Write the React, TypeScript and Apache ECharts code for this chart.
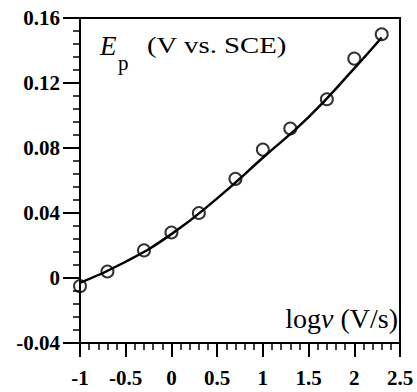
import React, { useEffect, useRef } from "react";
import * as echarts from "echarts";

const measuredX = [-1, -0.7, -0.3, 0, 0.3, 0.7, 1, 1.3, 1.7, 2, 2.3];
const measuredY = [-0.005, 0.004, 0.017, 0.028, 0.04, 0.061, 0.079, 0.092, 0.11, 0.135, 0.15];
const fitX = [-1, -0.5, 0, 0.5, 1, 1.5, 2, 2.3];
const fitY = [-0.003, 0.01, 0.027, 0.049, 0.074, 0.099, 0.129, 0.148];

const SERIF = '"Liberation Serif", "Times New Roman", serif';

export default function App() {
  const ref = useRef<HTMLDivElement>(null);
  useEffect(() => {
    if (!ref.current) return;
    const chart = echarts.init(ref.current, undefined, { renderer: "svg" });
    chart.setOption({
      animation: false,
      backgroundColor: "#fff",
      grid: {
        left: 80,
        right: 17,
        top: 18,
        bottom: 49,
        show: true,
        borderColor: "#000",
        borderWidth: 2,
        backgroundColor: "transparent",
      },
      xAxis: {
        type: "value",
        min: -1,
        max: 2.5,
        interval: 0.5,
        axisLine: { show: true, onZero: false, lineStyle: { color: "#000", width: 2 } },
        axisTick: { show: true, inside: false, length: 14, lineStyle: { color: "#000", width: 2 } },
        minorTick: { show: true, splitNumber: 5, length: 7, lineStyle: { color: "#000", width: 1.5 } },
        splitLine: { show: false },
        axisLabel: {
          margin: 24,
          color: "#000",
          fontFamily: SERIF,
          fontWeight: "bold",
          fontSize: 21,
          formatter: (v: number) => String(Math.round(v * 10) / 10),
        },
      },
      yAxis: {
        type: "value",
        min: -0.04,
        max: 0.16,
        interval: 0.04,
        axisLine: { show: true, onZero: false, lineStyle: { color: "#000", width: 2 } },
        axisTick: { show: true, inside: false, length: 17, lineStyle: { color: "#000", width: 2 } },
        minorTick: { show: true, splitNumber: 5, length: 7, lineStyle: { color: "#000", width: 1.5 } },
        splitLine: { show: false },
        axisLabel: {
          margin: 20,
          color: "#000",
          fontFamily: SERIF,
          fontWeight: "bold",
          fontSize: 21,
          formatter: (v: number) => {
            const r = Math.round(v * 100) / 100;
            return r === 0 ? "0" : String(r);
          },
        },
      },
      series: [
        {
          type: "line",
          smooth: true,
          showSymbol: false,
          symbol: "none",
          data: fitX.map((x, i) => [x, fitY[i]]),
          lineStyle: { color: "#000", width: 2.5 },
          z: 2,
        },
        {
          type: "scatter",
          symbol: "circle",
          symbolSize: 12,
          data: measuredX.map((x, i) => [x, measuredY[i]]),
          itemStyle: { color: "transparent", borderColor: "#000", borderWidth: 2 },
          z: 3,
        },
      ],
      graphic: [
        {
          type: "text",
          x: 100,
          y: 46,
          style: { text: "E", font: `italic 27px ${SERIF}`, fill: "#000", align: "left", verticalAlign: "middle" },
        },
        {
          type: "text",
          x: 118,
          y: 63,
          style: { text: "p", font: `21px ${SERIF}`, fill: "#000", align: "left", verticalAlign: "middle" },
        },
        {
          type: "text",
          x: 147,
          y: 45,
          scaleX: 1.2,
          style: { text: "(V vs. SCE)", font: `24px ${SERIF}`, fill: "#000", align: "left", verticalAlign: "middle" },
        },
        {
          type: "text",
          x: 398,
          y: 318,
          style: {
            text: "{a|log}{b|v}{a| (V/s)}",
            align: "right",
            verticalAlign: "middle",
            rich: {
              a: { fontFamily: SERIF, fontSize: 28, color: "#000" },
              b: { fontFamily: SERIF, fontStyle: "italic", fontSize: 28, color: "#000" },
            },
          },
        },
      ],
    });
    return () => chart.dispose();
  }, []);
  return <div ref={ref} style={{ position: "absolute", left: 0, top: 0, width: 417, height: 392 }} />;
}
